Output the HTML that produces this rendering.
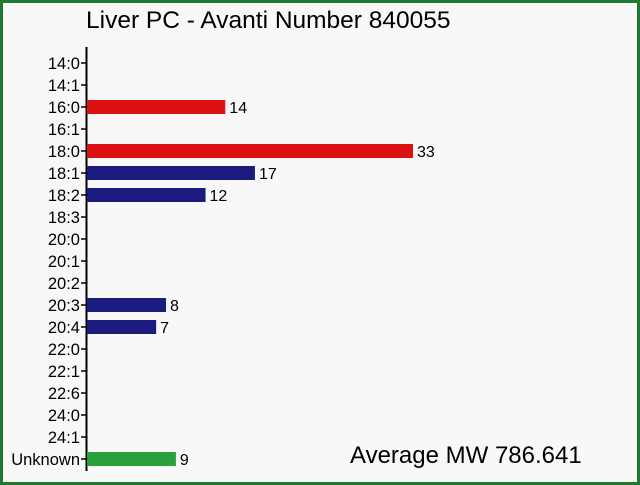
<!DOCTYPE html>
<html><head><meta charset="utf-8"><style>
html,body{margin:0;padding:0;background:#f7f7f7;}
svg{display:block;font-family:"Liberation Sans",Arial,sans-serif;}
</style></head><body>
<svg id="chart" width="640" height="485">
<rect x="1.5" y="1.5" width="637" height="482" fill="#f8f8f9" stroke="#1b7a2e" stroke-width="3"/>
<text x="86" y="28" font-size="24.5" fill="#000">Liver PC - Avanti Number 840055</text>
<line x1="86.5" y1="47" x2="86.5" y2="471" stroke="#000" stroke-width="2"/>
<g id="bars"></g>
<text x="350" y="463" font-size="24" fill="#000">Average MW 786.641</text>
</svg>
<script>
const categories=["14:0","14:1","16:0","16:1","18:0","18:1","18:2","18:3","20:0","20:1","20:2","20:3","20:4","22:0","22:1","22:6","24:0","24:1","Unknown"];
const values=[0,0,14,0,33,17,12,0,0,0,0,8,7,0,0,0,0,0,9];
const colors=["","","#dd1111","","#dd1111","#1c1c80","#1c1c80","","","","","#1c1c80","#1c1c80","","","","","","#29a03a"];
const NS="http://www.w3.org/2000/svg";
const g=document.getElementById('bars');
const x0=87, xScale=v=>x0+v*(326/33);
const yScale=i=>63+i*22;
categories.forEach((c,i)=>{
  const y=yScale(i);
  const t=document.createElementNS(NS,'line');
  t.setAttribute('x1',81);t.setAttribute('x2',86);t.setAttribute('y1',y);t.setAttribute('y2',y);
  t.setAttribute('stroke','#000');t.setAttribute('stroke-width','1.5');
  
  
  g.appendChild(t);
  const l=document.createElementNS(NS,'text');
  l.setAttribute('x',80);l.setAttribute('y',y+6);l.setAttribute('text-anchor','end');
  l.setAttribute('font-size','16.5');l.textContent=c;
  
  
  g.appendChild(l);
  const v=values[i];
  if(v>0){
    const r=document.createElementNS(NS,'rect');
    r.setAttribute('x',x0);r.setAttribute('y',y-7);r.setAttribute('width',xScale(v)-x0);r.setAttribute('height',14);
    r.setAttribute('fill',colors[i]||'#1c1c80');
    
    
    g.appendChild(r);
    const vl=document.createElementNS(NS,'text');
    vl.setAttribute('x',xScale(v)+4);vl.setAttribute('y',y+6);vl.setAttribute('font-size','16');
    vl.textContent=v;
    
    
    g.appendChild(vl);
  }
});
</script>
</body></html>
